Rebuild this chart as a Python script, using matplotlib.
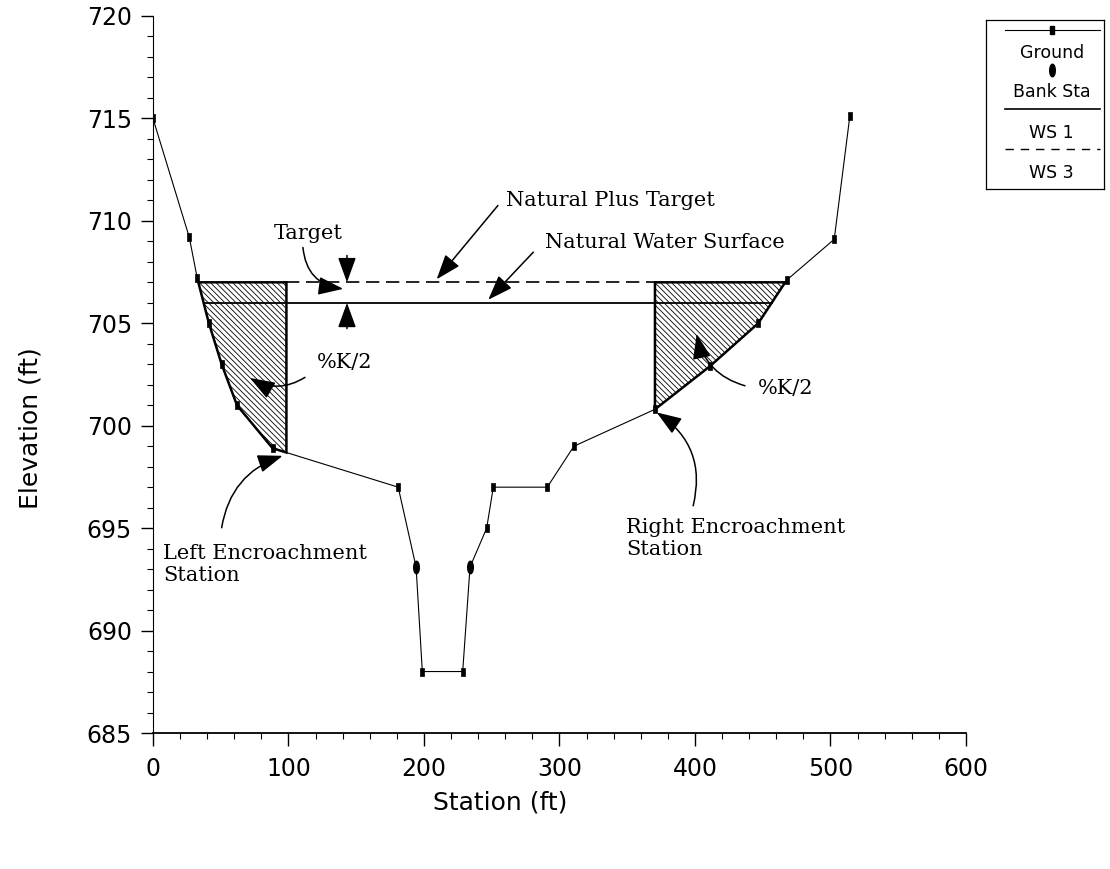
import numpy as np
import matplotlib
matplotlib.use('Agg')
import matplotlib.pyplot as plt
from matplotlib.path import Path
from matplotlib.transforms import Affine2D
from matplotlib.patches import Polygon

# ground profile (station ft, elevation ft)
sta = [0, 26.8, 32.7, 41.3, 50.7, 62, 88.3, 181, 194.2, 198.8, 228.6, 234,
       246.3, 251.2, 291, 310.7, 370.5, 411, 446.7, 467.6, 502.8, 514.3]
elev = [715.0, 709.2, 707.2, 705.0, 703.0, 701.0, 698.9, 697.0, 693.1, 688.0, 688.0, 693.1,
        695.0, 697.0, 697.0, 699.0, 700.8, 702.9, 705.0, 707.1, 709.1, 715.1]

bank_sta = [194.2, 234]
bank_elev = [693.1, 693.1]

ws1 = 706.0    # natural water surface
ws3 = 707.0    # natural plus target
left_enc = 98.5
right_enc = 370.5

sta = np.array(sta)
elev = np.array(elev)

def ground(x):
    return np.interp(x, sta, elev)

def crossings(ws):
    # left bank descends, right bank rises
    xl = np.interp(ws, elev[:7][::-1], sta[:7][::-1])
    xr = np.interp(ws, elev[16:], sta[16:])
    return xl, xr

plt.rcParams['hatch.linewidth'] = 0.6

fig = plt.figure(figsize=(11.1, 8.69), dpi=100)
ax = fig.add_axes([0.1378, 0.1565, 0.7324, 0.8251])

# encroachment areas
xl3, xr3 = crossings(ws3)
mask = (sta > xl3) & (sta < left_enc)
left_poly = [(xl3, ws3)] + list(zip(sta[mask], elev[mask])) + \
            [(left_enc, ground(left_enc)), (left_enc, ws3)]
mask = (sta > right_enc) & (sta < xr3)
right_poly = [(right_enc, ws3), (right_enc, ground(right_enc))] + \
             list(zip(sta[mask], elev[mask])) + [(xr3, ws3)]
for pts in [left_poly, right_poly]:
    ax.add_patch(Polygon(pts, closed=True, facecolor='white', edgecolor='black',
                         lw=1.8, hatch='\\' * 6, zorder=2))

# water surfaces
xl1, xr1 = crossings(ws1)
ax.plot([xl1, xr1], [ws1, ws1], color='black', lw=1.3, zorder=3)
ax.plot([left_enc, right_enc], [ws3, ws3], color='black', lw=1.2,
        linestyle=(0, (8, 4)), zorder=3)

# ground
bar = Path([(-0.4, -1), (0.4, -1), (0.4, 1), (-0.4, 1), (-0.4, -1)])
ax.plot(sta, elev, color='black', lw=0.8, marker=bar, markersize=6,
        markerfacecolor='black', markeredgewidth=0.5, zorder=4)
oval = Path.unit_circle().transformed(Affine2D().scale(0.45, 1.0))
ax.plot(bank_sta, bank_elev, linestyle='none', marker=oval, markersize=9,
        color='black', zorder=5)

ax.set_xlim(0, 600)
ax.set_ylim(685, 720)
ax.set_xticks(range(0, 601, 100))
ax.set_xticks(range(0, 601, 20), minor=True)
ax.set_yticks(range(685, 721, 5))
ax.set_yticks(range(685, 721, 1), minor=True)
ax.tick_params(which='major', length=9, width=1, labelsize=17, pad=6)
ax.tick_params(which='minor', length=4, width=0.8)
ax.tick_params(axis='x', which='major', pad=8)
ax.spines['top'].set_visible(False)
ax.spines['right'].set_visible(False)
ax.spines['left'].set_linewidth(0.8)
ax.spines['bottom'].set_linewidth(1.3)
ax.set_xlabel('Station (ft)', fontsize=18)
ax.set_ylabel('Elevation (ft)', fontsize=18)
ax.xaxis.set_label_coords(0.427, -0.08)
ax.yaxis.set_label_coords(-0.136, 0.425)

# annotations
serif = dict(family='DejaVu Serif', fontsize=15)
arrow = dict(arrowstyle='-|>,head_length=0.55,head_width=0.2', color='black',
             lw=1.1, mutation_scale=28, shrinkA=0, shrinkB=0)

def note(xy, xytext, rad=0.0):
    ax.annotate('', xy=xy, xytext=xytext,
                arrowprops=dict(arrow, connectionstyle='arc3,rad=%s' % rad), zorder=6)

ax.text(260.5, 710.98, 'Natural Plus Target', ha='left', va='center', **serif)
note((209.4, 707.15), (254.6, 710.75))
ax.text(289.3, 708.95, 'Natural Water Surface', ha='left', va='center', **serif)
note((247.5, 706.15), (280.7, 708.47))
ax.text(114.8, 709.38, 'Target', ha='center', va='center', **serif)
note((140.4, 706.68), (110.7, 708.70), rad=0.4)
note((143.2, ws3), (143.2, 708.31))
note((143.2, ws1), (143.2, 704.74))
ax.text(141.7, 703.07, '%K/2', ha='center', va='center', **serif)
note((71.6, 702.33), (112.2, 702.36), rad=-0.3)
ax.text(466.8, 701.8, '%K/2', ha='center', va='center', **serif)
note((401.3, 704.48), (436.9, 701.95), rad=-0.3)
ax.text(7.4, 694.23, 'Left Encroachment\nStation', ha='left', va='top', **serif)
note((95.7, 698.53), (50.7, 695.02), rad=-0.3)
ax.text(349.1, 695.5, 'Right Encroachment\nStation', ha='left', va='top', **serif)
note((371.7, 700.65), (398.7, 696.09), rad=0.35)

# legend box
lg = fig.add_axes([986 / 1110, 1 - 189 / 869, 118 / 1110, 169 / 869])
lg.set_xlim(0, 1)
lg.set_ylim(0, 1)
lg.set_xticks([])
lg.set_yticks([])
for s in lg.spines.values():
    s.set_linewidth(0.9)
lg.plot([0.16, 0.557, 0.966], [0.941, 0.941, 0.941], color='black', lw=0.8,
        marker=bar, markersize=6, markevery=[1])
lg.plot([0.557], [0.704], linestyle='none', marker=oval, markersize=9, color='black')
lg.plot([0.16, 0.966], [0.472, 0.472], color='black', lw=1.2)
lg.plot([0.16, 0.966], [0.235, 0.235], color='black', lw=1.0, linestyle=(0, (6, 5)))
for y, t in [(0.803, 'Ground'), (0.576, 'Bank Sta'), (0.330, 'WS 1'), (0.093, 'WS 3')]:
    lg.text(0.557, y, t, ha='center', va='center', fontsize=12.5)

plt.savefig('out.png', dpi=100)
